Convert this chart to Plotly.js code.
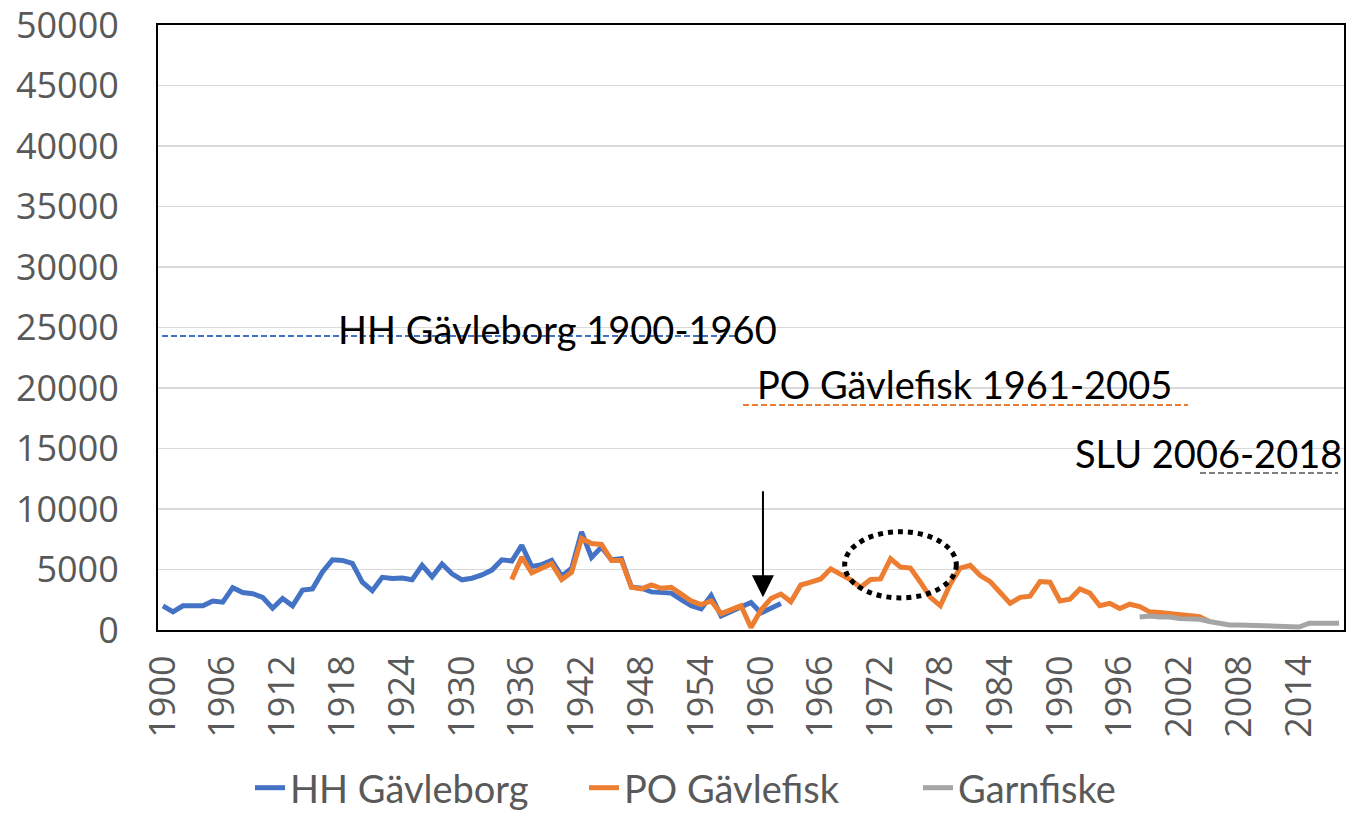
<!DOCTYPE html>
<html>
<head>
<meta charset="utf-8">
<script src="https://cdn.plot.ly/plotly-3.0.1.min.js"></script>
<style>html,body{margin:0;padding:0;background:#fff;}#chart{width:1348px;height:816px;}</style>
</head>
<body>
<div id="chart"></div>
<script>
// ---- data ----
const hhYears = [1900,1901,1902,1903,1904,1905,1906,1907,1908,1909,1910,1911,1912,1913,1914,1915,1916,1917,1918,1919,1920,1921,1922,1923,1924,1925,1926,1927,1928,1929,1930,1931,1932,1933,1934,1935,1936,1937,1938,1939,1940,1941,1942,1943,1944,1945,1946,1947,1948,1949,1950,1951,1952,1953,1954,1955,1956,1957,1958,1959,1960,1961,1962];
const hhValues = [2000,1500,2000,2000,2000,2400,2300,3500,3100,3000,2700,1800,2600,2000,3300,3400,4800,5800,5750,5500,3950,3250,4350,4250,4300,4150,5350,4400,5450,4640,4150,4280,4550,4950,5800,5700,7000,5250,5400,5750,4450,5100,8100,6000,6850,5800,5900,3550,3450,3150,3100,3050,2500,2000,1750,2850,1150,1550,1850,2270,1400,1850,2200];

const poYears = [1935,1936,1937,1938,1939,1940,1941,1942,1943,1944,1945,1946,1947,1948,1949,1950,1951,1952,1953,1954,1955,1956,1957,1958,1959,1960,1961,1962,1963,1964,1965,1966,1967,1968,1969,1970,1971,1972,1973,1974,1975,1976,1977,1978,1979,1980,1981,1982,1983,1984,1985,1986,1987,1988,1989,1990,1991,1992,1993,1994,1995,1996,1997,1998,1999,2000,2001,2002,2003,2004,2005];
const poValues = [4170,6030,4720,5120,5480,4170,4780,7570,7150,7070,5750,5750,3530,3400,3720,3450,3530,2970,2400,2100,2400,1350,1650,2000,200,1650,2600,2970,2330,3720,3950,4220,5060,4640,4140,3530,4170,4220,5890,5200,5120,3950,2700,2000,3800,5120,5340,4500,4000,3100,2200,2700,2800,4000,3950,2400,2550,3390,3050,2000,2200,1770,2130,1940,1500,1440,1350,1200,1100,1100,700];

const garnYears = [1998,1999,2000,2001,2002,2003,2004,2005,2006,2007,2008,2009,2010,2011,2012,2013,2014,2015,2016,2017,2018];
const garnValues = [1070,1150,1070,1070,940,940,890,700,560,420,420,380,350,300,250,250,250,560,590,560,560];

const seriesNames = ["HH Gävleborg", "PO Gävlefisk", "Garnfiske"];
const periodLabels = ["HH Gävleborg 1900-1960", "PO Gävlefisk 1961-2005", "SLU 2006-2018"];

// ---- layout helpers (pixel -> paper) ----
const W = 1348, H = 816;
const L = 158, R = 1344, T = 25, B = 630;
const px = x => (x - L) / (R - L);
const py = y => (B - y) / (B - T);

const traces = [
  {x: hhYears, y: hhValues, name: seriesNames[0], type: 'scatter', mode: 'lines',
   line: {color: '#4472C4', width: 5}},
  {x: poYears, y: poValues, name: seriesNames[1], type: 'scatter', mode: 'lines',
   line: {color: '#ED7D31', width: 5}},
  {x: garnYears, y: garnValues, name: seriesNames[2], type: 'scatter', mode: 'lines',
   line: {color: '#A5A5A5', width: 5}}
];

const tickFont = {family: 'Open Sans, DejaVu Sans, sans-serif', size: 36, color: '#595959'};
const annFont = {family: 'Lato, sans-serif', size: 38, color: '#000000'};

const layout = {
  width: W, height: H,
  margin: {l: L, r: W - R, t: T, b: H - B, pad: 0, autoexpand: false},
  paper_bgcolor: '#ffffff', plot_bgcolor: '#ffffff',
  showlegend: true,
  legend: {orientation: 'h', xref: 'container', yref: 'container',
           x: 250 / W, xanchor: 'left', y: (H - 788) / H, yanchor: 'middle',
           font: {family: 'Lato, sans-serif', size: 38, color: '#595959'},
           entrywidth: 289, bgcolor: 'rgba(0,0,0,0)'},
  xaxis: {type: 'linear', range: [1899.5, 2018.5], tick0: 1900, dtick: 6, tickangle: -90,
          tickfont: tickFont, showgrid: false, zeroline: false, ticks: '',
          showline: true, mirror: true, linecolor: '#000000', linewidth: 2,
          ticklabelstandoff: 9, automargin: false, ticklabeloverflow: 'allow'},
  yaxis: {range: [0, 50000], dtick: 5000, tickformat: 'd', tickfont: tickFont,
          showgrid: true, gridcolor: '#d9d9d9', gridwidth: 1.5, zeroline: false, ticks: '',
          showline: true, mirror: true, linecolor: '#000000', linewidth: 2,
          ticklabelstandoff: 30, automargin: false, ticklabeloverflow: 'allow'},
  shapes: [
    {type: 'line', xref: 'paper', yref: 'paper', x0: px(162), x1: px(735), y0: py(336), y1: py(336),
     line: {color: '#4472C4', width: 1.8, dash: '6px,3px'}},
    {type: 'line', xref: 'paper', yref: 'paper', x0: px(743), x1: px(1188), y0: py(405), y1: py(405),
     line: {color: '#ED7D31', width: 1.8, dash: '6px,3px'}},
    {type: 'line', xref: 'paper', yref: 'paper', x0: px(1200), x1: px(1338), y0: py(473), y1: py(473),
     line: {color: '#7F7F7F', width: 1.8, dash: '6px,3px'}},
    {type: 'circle', xref: 'x', yref: 'y', x0: 1968.4, x1: 1979.6, y0: 2650, y1: 8120,
     line: {color: '#000000', width: 5, dash: 'dot'}}
  ],
  annotations: [
    {xref: 'paper', yref: 'paper', x: px(336), y: py(329), xanchor: 'left', yanchor: 'middle',
     text: periodLabels[0], showarrow: false, font: annFont},
    {xref: 'paper', yref: 'paper', x: px(755), y: py(384), xanchor: 'left', yanchor: 'middle',
     text: periodLabels[1], showarrow: false, font: annFont},
    {xref: 'paper', yref: 'paper', x: px(1344), y: py(453), xanchor: 'right', yanchor: 'middle',
     text: periodLabels[2], showarrow: false, font: annFont},
    {xref: 'x', yref: 'y', axref: 'x', ayref: 'y', x: 1960.2, y: 2700, ax: 1960.2, ay: 11600,
     text: '', showarrow: true, arrowhead: 2, arrowsize: 2.2, arrowwidth: 2, arrowcolor: '#000000'}
  ]
};

Plotly.newPlot('chart', traces, layout, {displayModeBar: false, staticPlot: true});
</script>
</body>
</html>
